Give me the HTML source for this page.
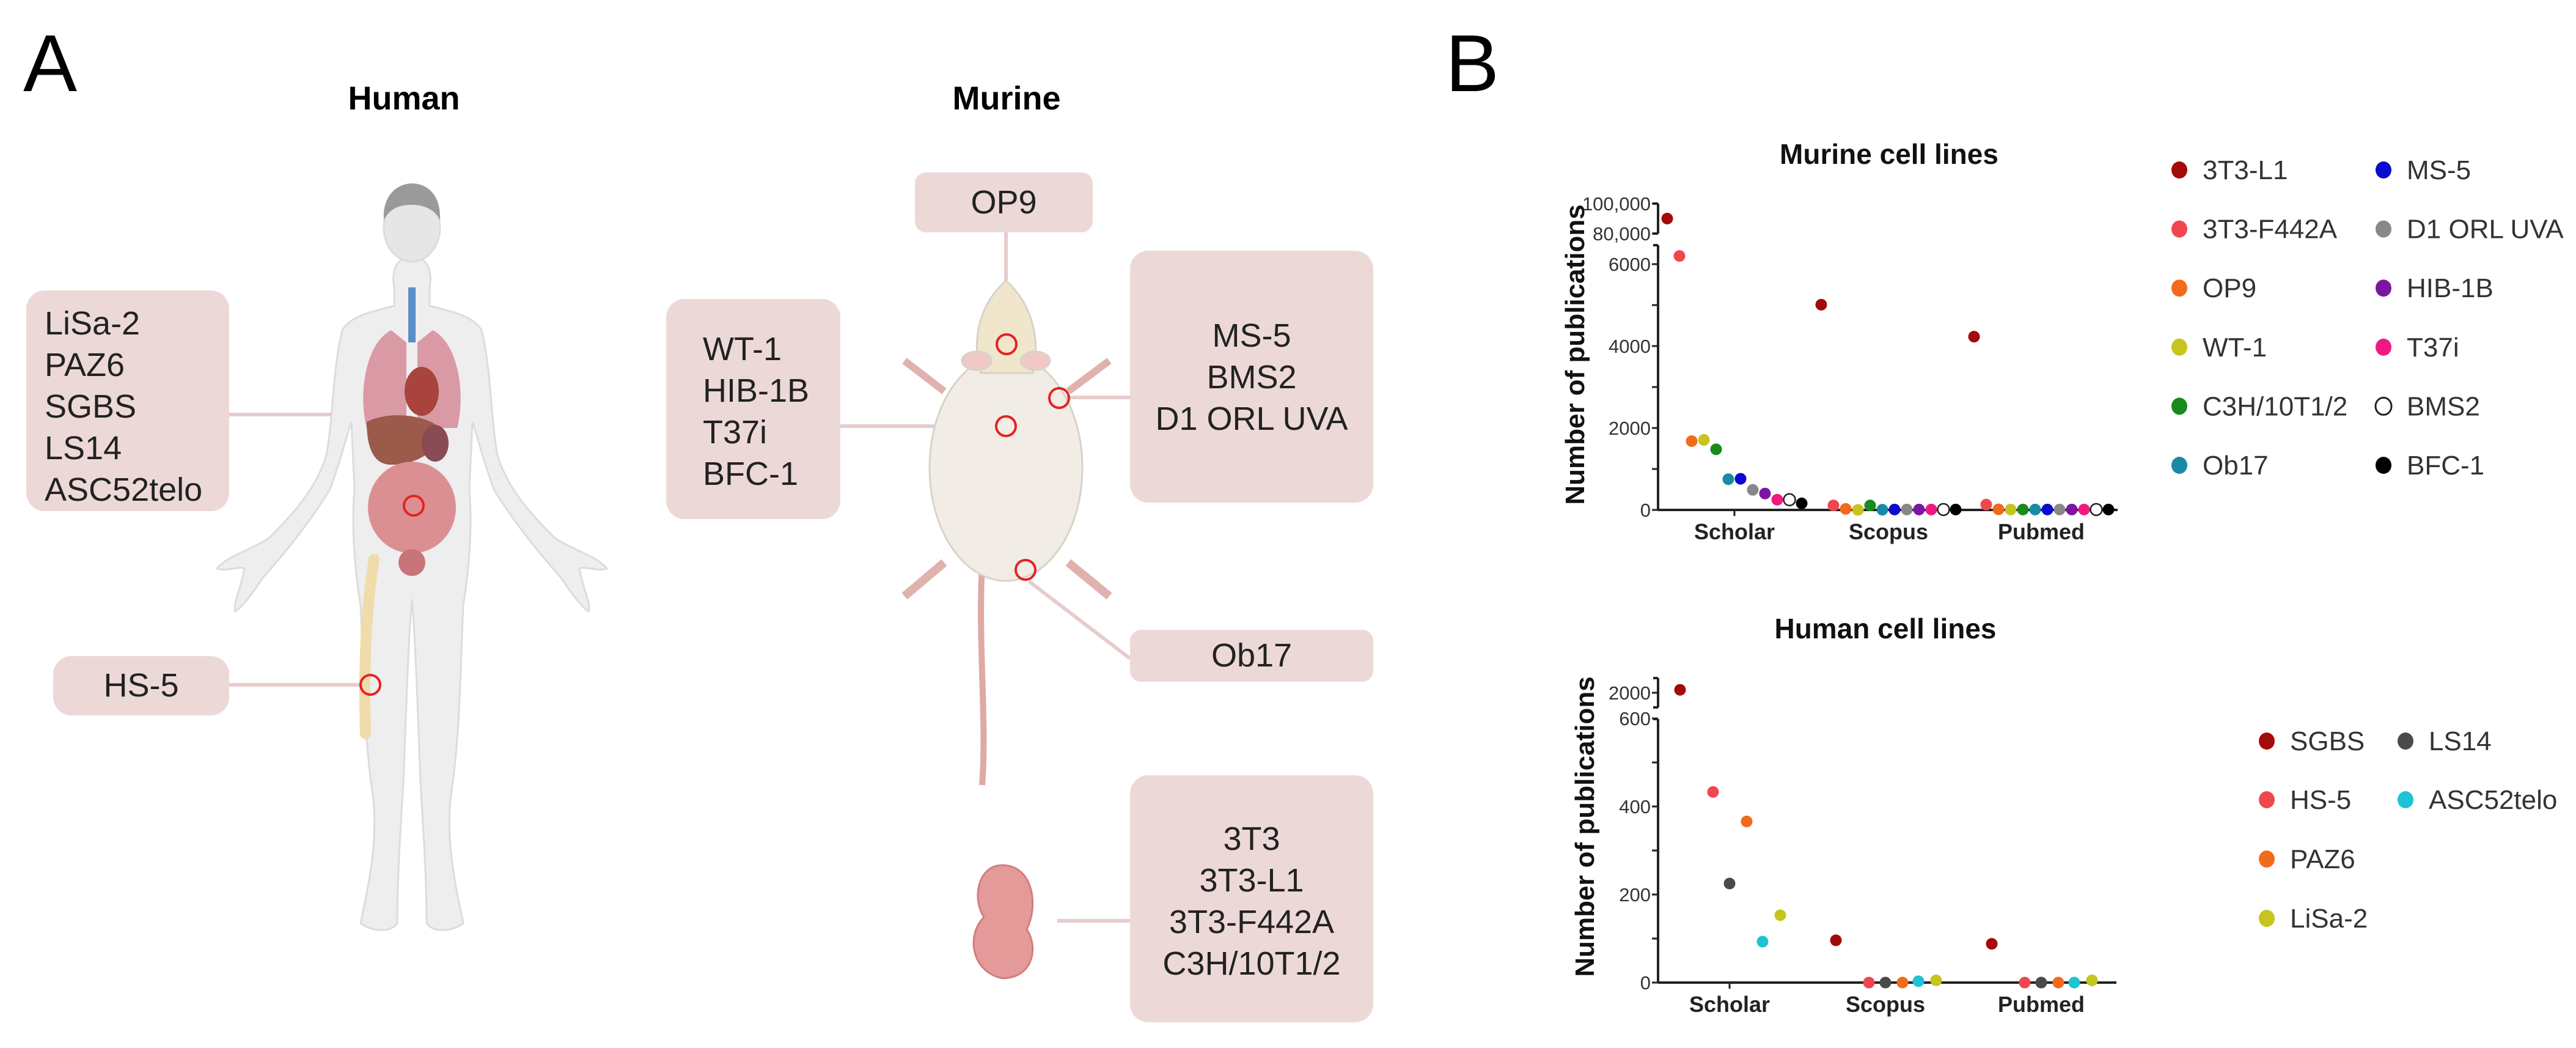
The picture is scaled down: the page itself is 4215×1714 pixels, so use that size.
<!DOCTYPE html>
<html><head><meta charset="utf-8">
<style>
html,body{margin:0;padding:0;background:#fff;}
#root{position:relative;width:4215px;height:1714px;overflow:hidden;background:#fff;font-family:"Liberation Sans",Arial,sans-serif;}
.box{position:absolute;background:#ecd9d7;border-radius:30px;color:#222;font-size:54px;line-height:68px;box-sizing:border-box;}
.t{position:absolute;white-space:nowrap;}
</style></head>
<body>
<div id="root">
<svg id="ill" width="2400" height="1714" style="position:absolute;left:0;top:0">
  <g stroke="#e6cccb" stroke-width="6" fill="none">
    <line x1="375" y1="678" x2="640" y2="678"/>
    <line x1="375" y1="1120" x2="590" y2="1120"/>
    <line x1="1646" y1="380" x2="1646" y2="459"/>
    <line x1="1375" y1="697" x2="1630" y2="697"/>
    <line x1="1745" y1="650" x2="1849" y2="650"/>
    <line x1="1684" y1="951" x2="1849" y2="1077"/>
    <line x1="1730" y1="1506" x2="1849" y2="1506"/>
  </g>
  <g fill="#eeeeee" stroke="#dcdcdc" stroke-width="3">
    <path d="M674,420 C650,420 640,440 645,470 L645,500 C610,510 575,515 560,540 C545,600 545,680 535,740 C520,800 470,850 440,880 C410,900 370,910 355,930 C370,935 395,925 400,930 C395,960 380,990 385,1000 C400,990 420,960 430,945 C470,900 510,850 540,800 C555,760 565,720 575,690 L580,800 C575,860 580,930 590,990 C595,1100 595,1200 610,1300 C620,1380 600,1460 590,1510 C610,1525 640,1525 650,1510 C650,1440 655,1360 660,1280 C665,1150 668,1050 674,980 C680,1050 683,1150 688,1280 C693,1360 698,1440 698,1510 C708,1525 738,1525 758,1510 C748,1460 728,1380 738,1300 C753,1200 753,1100 758,990 C768,930 773,860 768,800 L773,690 C783,720 793,760 808,800 C838,850 878,900 918,945 C928,960 948,990 963,1000 C968,990 953,960 948,930 C953,925 978,935 993,930 C978,910 938,900 908,880 C878,850 828,800 813,740 C803,680 803,600 788,540 C773,515 738,510 703,500 L703,470 C708,440 698,420 674,420 Z"/>
    <ellipse cx="674" cy="372" rx="46" ry="56" fill="#e6e6e6"/>
    <path d="M628,360 C625,320 650,300 674,300 C700,300 722,320 720,360 C710,340 690,335 674,335 C655,335 638,340 628,360 Z" fill="#9a9a9a" stroke="none"/>
  </g>
  <g>
    <rect x="668" y="470" width="12" height="90" fill="#5b8fc9"/>
    <path d="M640,540 C600,560 585,640 600,700 L665,700 L665,560 Z" fill="#d99aa5"/>
    <path d="M708,540 C748,560 763,640 748,700 L683,700 L683,560 Z" fill="#d99aa5"/>
    <ellipse cx="690" cy="640" rx="28" ry="40" fill="#a8433e"/>
    <path d="M600,690 C640,670 700,680 720,700 C720,740 680,760 640,760 C610,760 600,730 600,690 Z" fill="#9c5a4a"/>
    <ellipse cx="712" cy="725" rx="22" ry="30" fill="#8a4b55"/>
    <ellipse cx="674" cy="830" rx="72" ry="75" fill="#dc8f92"/>
    <ellipse cx="674" cy="920" rx="22" ry="22" fill="#c87478"/>
    <path d="M612,915 C598,1000 595,1100 598,1200" stroke="#f0dcaa" stroke-width="18" fill="none" stroke-linecap="round"/>
  </g>
  <g stroke="#d8d2c8" stroke-width="3">
    <path d="M1607,925 C1600,1050 1615,1180 1607,1284" stroke="#e0a9a4" stroke-width="10" fill="none"/>
    <path d="M1545,640 L1480,590 M1748,640 L1815,590" stroke="#e0b2ae" stroke-width="12" fill="none"/>
    <path d="M1545,920 L1480,975 M1748,920 L1815,975" stroke="#e0b2ae" stroke-width="14" fill="none"/>
    <ellipse cx="1646" cy="765" rx="125" ry="185" fill="#f1ede6"/>
    <path d="M1646,459 C1600,500 1590,560 1605,610 L1690,610 C1702,560 1692,500 1646,459 Z" fill="#efe6cc"/>
    <ellipse cx="1598" cy="590" rx="24" ry="15" fill="#f0c9c4"/>
    <ellipse cx="1694" cy="590" rx="24" ry="15" fill="#f0c9c4"/>
  </g>
  <g>
    <path d="M1640,1415 C1600,1415 1590,1470 1610,1500 C1580,1530 1590,1590 1640,1600 C1690,1600 1700,1550 1680,1520 C1700,1480 1690,1415 1640,1415 Z" fill="#e59a9a" stroke="#d07d80" stroke-width="3"/>
  </g>
  <g fill="none" stroke="#e52222" stroke-width="4">
    <circle cx="677" cy="827" r="16"/>
    <circle cx="606" cy="1120" r="16"/>
    <circle cx="1647" cy="563" r="16"/>
    <circle cx="1733" cy="651" r="16"/>
    <circle cx="1646" cy="697" r="16"/>
    <circle cx="1678" cy="932" r="16"/>
  </g>
</svg>

<div class="t" style="left:38px;top:28px;font-size:132px;">A</div>
<div class="t" style="left:2365px;top:28px;font-size:132px;">B</div>
<div class="t" style="left:561px;top:130px;width:200px;text-align:center;font-size:54px;font-weight:bold;">Human</div>
<div class="t" style="left:1547px;top:130px;width:200px;text-align:center;font-size:54px;font-weight:bold;">Murine</div>

<div class="box" style="left:43px;top:475px;width:332px;height:361px;padding:20px 0 0 30px;">LiSa-2<br>PAZ6<br>SGBS<br>LS14<br>ASC52telo</div>
<div class="box" style="left:87px;top:1073px;width:288px;height:97px;text-align:center;line-height:97px;">HS-5</div>
<div class="box" style="left:1497px;top:282px;width:291px;height:98px;text-align:center;line-height:98px;border-radius:18px;">OP9</div>
<div class="box" style="left:1090px;top:489px;width:285px;height:360px;padding:48px 0 0 60px;">WT-1<br>HIB-1B<br>T37i<br>BFC-1</div>
<div class="box" style="left:1849px;top:410px;width:398px;height:412px;padding:105px 0 0 0;text-align:center;">MS-5<br>BMS2<br>D1 ORL UVA</div>
<div class="box" style="left:1849px;top:1030px;width:398px;height:85px;text-align:center;line-height:85px;border-radius:18px;">Ob17</div>
<div class="box" style="left:1849px;top:1268px;width:398px;height:404px;padding:70px 0 0 0;text-align:center;">3T3<br>3T3-L1<br>3T3-F442A<br>C3H/10T1/2</div>

<svg id="charts" width="4215" height="1714" style="position:absolute;left:0;top:0;pointer-events:none"></svg>
</div>

<script>
const murineSeries = ["3T3-L1","3T3-F442A","OP9","WT-1","C3H/10T1/2","Ob17","MS-5","D1 ORL UVA","HIB-1B","T37i","BMS2","BFC-1"];
const murineColors = ["#a50a0a","#f0474f","#f26a1b","#c5c51e","#188a1e","#198aa3","#0a0ad0","#888888","#7a16a4","#ee1a82","none","#000000"];
const databases = ["Scholar","Scopus","Pubmed"];
const murineScholar = [90000,6200,1680,1710,1480,750,760,490,400,250,250,160];
const murineScopus  = [5010,110,25,0,110,5,10,10,10,10,10,10];
const murinePubmed  = [4230,130,15,10,10,10,10,10,10,10,10,10];
const murineLowTicks = [0,1000,2000,3000,4000,5000,6000];
const murineLowLabels = ["0","","2000","","4000","","6000"];
const murineHighTicks = [80000,100000];
const murineHighLabels = ["80,000","100,000"];

const humanSeries = ["SGBS","HS-5","LS14","PAZ6","ASC52telo","LiSa-2"];
const humanColors = ["#a50a0a","#f0474f","#4a4a4a","#f26a1b","#1ec3d6","#c5c51e"];
const humanScholar = [2020,433,225,366,93,153];
const humanScopus  = [96,0,0,0,3,5];
const humanPubmed  = [88,0,0,0,0,5];
const humanLowTicks = [0,100,200,300,400,500,600];
const humanLowLabels = ["0","","200","","400","","600"];
const humanHighTicks = [2000];
const humanHighLabels = ["2000"];

const NS="http://www.w3.org/2000/svg";
const svg=document.getElementById('charts');
function mk(tag,attrs,parent){const e=document.createElementNS(NS,tag);for(const k in attrs)e.setAttribute(k,attrs[k]);(parent||svg).appendChild(e);return e;}
function txt(x,y,s,size,anchor,weight,fill,parent){const e=mk('text',{x:x,y:y,'font-size':size,'text-anchor':anchor,'font-weight':weight||'normal',fill:fill||'#222','font-family':'Liberation Sans, Arial, sans-serif'},parent);e.textContent=s;return e;}

function drawChart(cfg){
  const g=mk('g',{});
  
  
  const ax=cfg.axisX;
  const yAxisLow=mk('line',{x1:ax,y1:cfg.y(0),x2:ax,y2:cfg.lowTop,stroke:'#222','stroke-width':4},g);
  
  
  const yAxisHigh=mk('line',{x1:ax,y1:cfg.highBottom,x2:ax,y2:cfg.highTop,stroke:'#222','stroke-width':4},g);
  
  
  mk('line',{x1:ax-8,y1:cfg.highTop,x2:ax,y2:cfg.highTop,stroke:'#222','stroke-width':4},g);
  mk('line',{x1:ax-8,y1:cfg.highBottom,x2:ax,y2:cfg.highBottom,stroke:'#222','stroke-width':4},g);
  mk('line',{x1:ax-8,y1:cfg.lowTop,x2:ax,y2:cfg.lowTop,stroke:'#222','stroke-width':4},g);
  const xAxis=mk('line',{x1:ax,y1:cfg.y(0),x2:cfg.axisEnd,y2:cfg.y(0),stroke:'#222','stroke-width':4},g);
  
  
  cfg.lowTicks.forEach((v,i)=>{
    const yy=cfg.y(v);
    mk('line',{x1:ax-10,y1:yy,x2:ax,y2:yy,stroke:'#222','stroke-width':3},g);
    if(cfg.lowLabels[i]){const t=txt(ax-12,yy+11,cfg.lowLabels[i],31,'end','normal','#333',g);
      
      }
  });
  cfg.highTicks.forEach((v,i)=>{
    const yy=cfg.y(v);
    mk('line',{x1:ax-10,y1:yy,x2:ax,y2:yy,stroke:'#222','stroke-width':3},g);
    const t=txt(ax-12,yy+11,cfg.highLabels[i],31,'end','normal','#333',g);
    
    
  });
  databases.forEach((d,k)=>{
    const cx=cfg.groupX[k];
    if(k===0) mk('line',{x1:cx,y1:cfg.y(0),x2:cx,y2:cfg.y(0)+10,stroke:'#222','stroke-width':3},g);
    const t=txt(cx,cfg.y(0)+48,d,36,'middle','bold','#222',g);
    
    
  });
  const yt=txt(0,0,'Number of publications',44,'middle','bold','#111',g);
  yt.setAttribute('transform','translate('+cfg.yTitleX+','+cfg.yTitleY+') rotate(-90)');
  
  
  const tt=txt(cfg.titleX,cfg.titleY,cfg.title,46,'middle','bold','#111',g);
  
  
  cfg.values.forEach((arr,k)=>{
    arr.forEach((v,i)=>{
      const c=mk('circle',{cx:cfg.groupX[k]+cfg.offset(i),cy:cfg.y(v),r:9.5,
        fill:cfg.colors[i]==='none'?'#fff':cfg.colors[i],stroke:cfg.colors[i]==='none'?'#222':'none','stroke-width':2.5},g);
      
      
    });
  });
  cfg.series.forEach((s,i)=>{
    const p=cfg.legendPos(s,i);
    const col=cfg.colors[i];
    const c=mk('ellipse',{cx:p[0],cy:p[1],rx:13,ry:14,fill:col==='none'?'#fff':col,stroke:col==='none'?'#222':'none','stroke-width':3},g);
    
    
    const t=txt(p[0]+38,p[1]+15,s,44,'start','normal','#333',g);
    
    
  });
}

drawChart({
  name:'murine-chart', title:'Murine cell lines', titleX:3091, titleY:268,
  series:murineSeries, colors:murineColors,
  values:[murineScholar,murineScopus,murinePubmed],
  axisX:2713, axisEnd:3465, groupX:[2838,3090,3340],
  y:v=> v>=20000 ? 382-(v-80000)/20000*49 : 834-v/2000*134,
  lowTop:401, highTop:333, highBottom:382,
  lowTicks:murineLowTicks, lowLabels:murineLowLabels, highTicks:murineHighTicks, highLabels:murineHighLabels,
  offset:i=> (i-5.5)*20,
  yTitleX:2592, yTitleY:580,
  legendPos:(s,i)=> [i<6?3566:3900, 278+(i%6)*96.6]
});

const humanOffsets=[-81,-27,0,28,54,83];
const humanLegendPos={"SGBS":[3709,1212],"HS-5":[3709,1308],"PAZ6":[3709,1405],"LiSa-2":[3709,1502],"LS14":[3936,1212],"ASC52telo":[3936,1308]};
drawChart({
  name:'human-chart', title:'Human cell lines', titleX:3085, titleY:1044,
  series:humanSeries, colors:humanColors,
  values:[humanScholar,humanScopus,humanPubmed],
  axisX:2713, axisEnd:3463, groupX:[2830,3085,3340],
  y:v=> v>=1000 ? 1133-(v-2000)/100*24 : 1607-v/200*144,
  lowTop:1176, highTop:1109, highBottom:1157,
  lowTicks:humanLowTicks, lowLabels:humanLowLabels, highTicks:humanHighTicks, highLabels:humanHighLabels,
  offset:i=> humanOffsets[i],
  yTitleX:2608, yTitleY:1352,
  legendPos:(s,i)=> humanLegendPos[s]
});
</script>
</body></html>
